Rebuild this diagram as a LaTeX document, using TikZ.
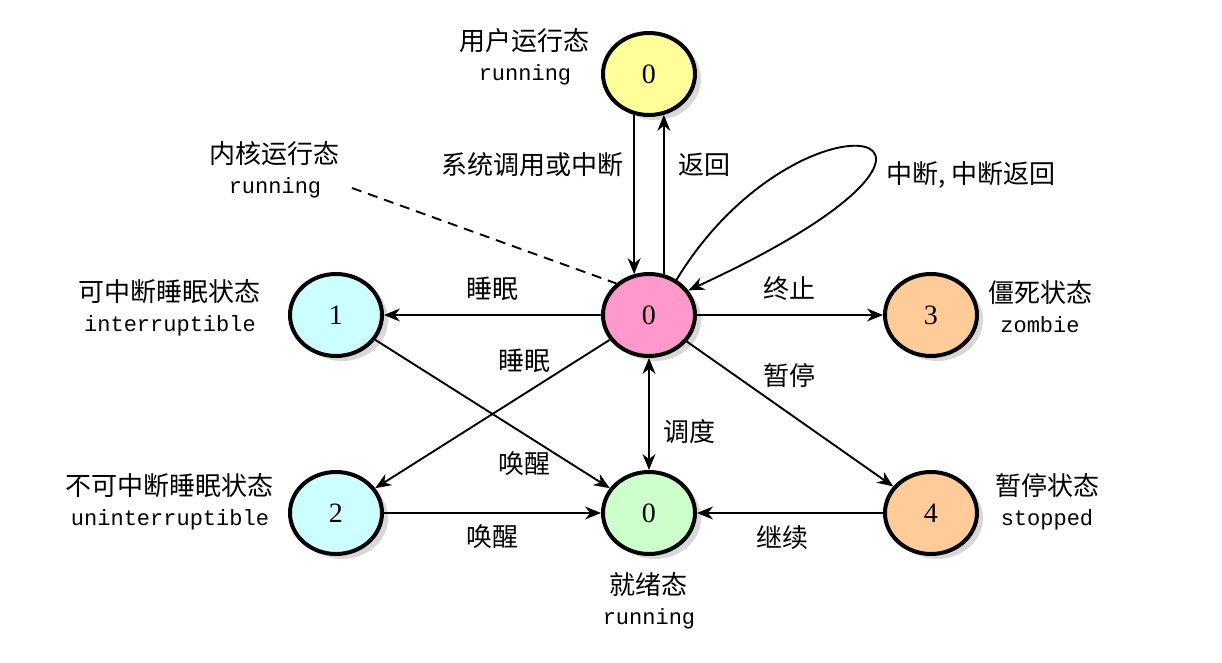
\documentclass[tikz,border=0pt]{standalone}
\usepackage{fontspec}
\setmainfont{Liberation Serif}
\setmonofont{Liberation Mono}
\newfontfamily\cjk{Noto Sans CJK SC}
\usepackage{xcolor}
\usepackage{tikz}
\usetikzlibrary{arrows.meta,positioning,calc,shapes.geometric,shadows}
\definecolor{cyellow}{HTML}{FFFF99}
\definecolor{cpink}{HTML}{FF99CC}
\definecolor{ccyan}{HTML}{CCFFFF}
\definecolor{corange}{HTML}{FFCC99}
\definecolor{cgreen}{HTML}{CCFFCC}
\newcommand{\twoline}[2]{{\cjk #1}\\{\ttfamily\fontsize{11pt}{15pt}\selectfont #2}}

\begin{document}
\begin{tikzpicture}[>={Stealth[length=8pt,width=6.5pt]}, line width=0.95pt,
  state/.style={ellipse, draw, line width=2pt, minimum width=46pt, minimum height=41pt, inner sep=0pt,
    font=\fontsize{14pt}{16pt}\selectfont, drop shadow={shadow xshift=3pt, shadow yshift=-2.5pt, fill=black!30}},
  lbl/.style={font=\fontsize{13pt}{15pt}\selectfont\cjk, inner sep=1pt},
  desc/.style={align=center, font=\fontsize{13pt}{15pt}\selectfont, inner sep=1pt}]
\node[state, fill=cpink] (k) {0};
\node[state, fill=cyellow, above=77.5pt of k] (u) {0};
\node[state, fill=ccyan, left=108.5pt of k] (n1) {1};
\node[state, fill=corange, right=93pt of k] (n3) {3};
\node[state, fill=cgreen, below=56pt of k] (r) {0};
\node[state, fill=ccyan, left=108.5pt of r] (n2) {2};
\node[state, fill=corange, right=93pt of r] (n4) {4};
\useasboundingbox ($(k)+(-324.5pt,157.5pt)$) rectangle ($(k)+(286.5pt,-174pt)$);

\node[desc] (du) at ($(k)+(-62pt,129pt)$) {\twoline{用户运行态}{running}};
\node[desc] (dk) at ($(k)+(-187pt,72.5pt)$) {\twoline{内核运行态}{running}};
\node[desc] (d1) at ($(k)+(-239.5pt,3.5pt)$) {\twoline{可中断睡眠状态}{interruptible}};
\node[desc] (d2) at ($(k)+(-239.5pt,-93.5pt)$) {\twoline{不可中断睡眠状态}{uninterruptible}};
\node[desc] (d3) at ($(k)+(195.5pt,4pt)$) {\twoline{僵死状态}{zombie}};
\node[desc] (d4) at ($(k)+(199pt,-93.5pt)$) {\twoline{暂停状态}{stopped}};
\node[desc] (dr) at ($(k)+(0pt,-143pt)$) {\twoline{就绪态}{running}};

\node[lbl] (lsys) at ($(k)+(-58pt,75pt)$) {系统调用或中断};
\node[lbl] (lret) at ($(k)+(28pt,75pt)$) {返回};
\node[lbl] (lint) at ($(k)+(161pt,70pt)$) {中断, 中断返回};
\node[lbl] (lsl1) at ($(k)+(-78pt,13pt)$) {睡眠};
\node[lbl] (lend) at ($(k)+(70.5pt,13pt)$) {终止};
\node[lbl] (lsl2) at ($(k)+(-62pt,-23pt)$) {睡眠};
\node[lbl] (lstp) at ($(k)+(70.5pt,-30.5pt)$) {暂停};
\node[lbl] (lsch) at ($(k)+(20.5pt,-58.5pt)$) {调度};
\node[lbl] (lwk1) at ($(k)+(-62pt,-74.5pt)$) {唤醒};
\node[lbl] (lwk2) at ($(k)+(-78pt,-111pt)$) {唤醒};
\node[lbl] (lcnt) at ($(k)+(67pt,-111.5pt)$) {继续};

\coordinate (kd) at ($(k)+(-148.5pt,63.5pt)$);
\draw[->] (u.250) -- (k.110);
\draw[->] (k.70) -- (u.290);
\draw[->] (k.52) .. controls +(62pt,102pt) and +(178pt,82pt) .. (k.32);
\draw[->] (k) -- (n1); \draw[->] (k) -- (n3);
\draw[->] (k) -- (n2); \draw[->] (k) -- (n4);
\draw[<->] (k) -- (r);
\draw[->] (n1) -- (r); \draw[->] (n2) -- (r); \draw[->] (n4) -- (r);
\draw[dash pattern=on 5pt off 3.5pt] (kd) -- (k.136);
\end{tikzpicture}
\end{document}
